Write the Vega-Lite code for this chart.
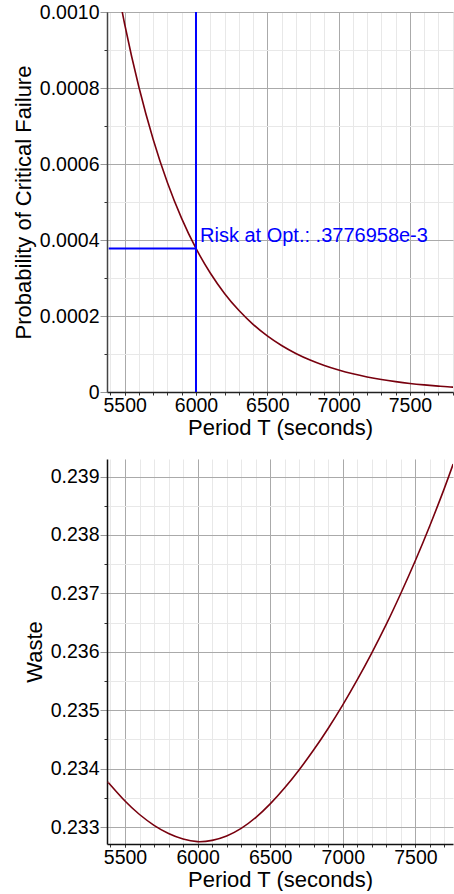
{
  "$schema": "https://vega.github.io/schema/vega-lite/v6.json",
  "background": "white",
  "padding": {"left": 12, "top": 2, "right": 0, "bottom": 0},
  "bounds": "flush",
  "spacing": 67,
  "config": {
    "view": {"stroke": null},
    "font": "Liberation Sans",
    "axis": {
      "labelFont": "Liberation Sans",
      "titleFont": "Liberation Sans",
      "labelFontSize": 19.5,
      "titleFontSize": 22,
      "titleFontWeight": "normal",
      "labelColor": "#000000",
      "titleColor": "#000000",
      "labelFlush": false,
      "labelOverlap": false
    }
  },
  "datasets": {
    "risk": [
      {"T": 5400, "P": 0.001168},
      {"T": 5500, "P": 0.0009678},
      {"T": 5600, "P": 0.0008019},
      {"T": 5700, "P": 0.0006645},
      {"T": 5800, "P": 0.0005506},
      {"T": 5900, "P": 0.0004562},
      {"T": 6000, "P": 0.0003777},
      {"T": 6100, "P": 0.0003132},
      {"T": 6200, "P": 0.0002595},
      {"T": 6300, "P": 0.000215},
      {"T": 6400, "P": 0.0001782},
      {"T": 6500, "P": 0.0001476},
      {"T": 6600, "P": 0.0001223},
      {"T": 6700, "P": 0.0001014},
      {"T": 6800, "P": 0.000084},
      {"T": 6900, "P": 0.0000696},
      {"T": 7000, "P": 0.0000577},
      {"T": 7100, "P": 0.0000478},
      {"T": 7200, "P": 0.0000396},
      {"T": 7300, "P": 0.0000328},
      {"T": 7400, "P": 0.0000272},
      {"T": 7500, "P": 0.0000225},
      {"T": 7600, "P": 0.0000187},
      {"T": 7700, "P": 0.0000155},
      {"T": 7800, "P": 0.0000128},
      {"T": 7810, "P": 0.0000126}
    ],
    "opt": [
      {"T_start": 5388, "T_opt": 6000, "risk": 0.0003776958, "label": "Risk at Opt.: .3776958e-3"}
    ],
    "waste": [
      {"T": 5385, "W": 0.233762},
      {"T": 5400, "W": 0.23372},
      {"T": 5500, "W": 0.233445},
      {"T": 5600, "W": 0.233215},
      {"T": 5700, "W": 0.23303},
      {"T": 5800, "W": 0.23289},
      {"T": 5900, "W": 0.232795},
      {"T": 6000, "W": 0.23275},
      {"T": 6100, "W": 0.232772},
      {"T": 6200, "W": 0.232847},
      {"T": 6300, "W": 0.232977},
      {"T": 6400, "W": 0.233162},
      {"T": 6500, "W": 0.233397},
      {"T": 6600, "W": 0.233672},
      {"T": 6700, "W": 0.233982},
      {"T": 6800, "W": 0.234322},
      {"T": 6900, "W": 0.234692},
      {"T": 7000, "W": 0.235092},
      {"T": 7100, "W": 0.235522},
      {"T": 7200, "W": 0.235982},
      {"T": 7300, "W": 0.236472},
      {"T": 7400, "W": 0.237002},
      {"T": 7500, "W": 0.237562},
      {"T": 7600, "W": 0.238162},
      {"T": 7700, "W": 0.238802},
      {"T": 7760, "W": 0.239212}
    ]
  },
  "vconcat": [
    {
      "width": 346,
      "height": 380,
      "resolve": {"axis": {"x": "independent", "y": "independent"}},
      "layer": [
        {
          "data": {"name": "risk"},
          "mark": {"type": "line", "color": "#78000E", "strokeWidth": 1.6, "clip": true, "interpolate": "monotone"},
          "encoding": {
            "x": {
              "field": "T", "type": "quantitative",
              "scale": {"domain": [5376, 7802], "nice": false, "zero": false},
              "axis": {"orient": "bottom", "values": [5400, 5500, 5600, 5700, 5800, 5900, 6000, 6100, 6200, 6300, 6400, 6500, 6600, 6700, 6800, 6900, 7000, 7100, 7200, 7300, 7400, 7500, 7600, 7700, 7800],
                "grid": true, "gridColor": "#e8e8e8", "gridWidth": 1, "labels": false, "title": null, "domain": false, "tickSize": 3, "tickColor": "#333333"}
            },
            "y": {
              "field": "P", "type": "quantitative",
              "scale": {"domain": [0, 0.001], "nice": false, "zero": false},
              "axis": {"orient": "left", "values": [0, 0.0001, 0.0002, 0.0003, 0.0004, 0.0005, 0.0006, 0.0007, 0.0008, 0.0009, 0.001],
                "grid": true, "gridColor": "#e8e8e8", "gridWidth": 1, "labels": false, "title": null, "domain": false, "tickSize": 3, "tickColor": "#333333"}
            }
          }
        },
        {
          "data": {"name": "opt"},
          "mark": {"type": "rule", "color": "#0000FF", "strokeWidth": 2},
          "encoding": {
            "x": {
              "field": "T_start", "type": "quantitative",
              "scale": {"domain": [5376, 7802], "nice": false, "zero": false},
              "axis": {"orient": "bottom", "values": [5500, 6000, 6500, 7000, 7500], "format": "d", "grid": true, "gridColor": "#aaaaaa", "gridWidth": 1,
                "title": "Period T (seconds)", "titlePadding": 3, "labelPadding": 1, "tickSize": 3, "tickColor": "#333333",
                "domain": true, "domainColor": "#222222", "domainWidth": 1.5}
            },
            "x2": {"field": "T_opt"},
            "y": {
              "field": "risk", "type": "quantitative",
              "scale": {"domain": [0, 0.001], "nice": false, "zero": false},
              "axis": {"orient": "left", "values": [0, 0.0002, 0.0004, 0.0006, 0.0008, 0.001], "grid": true, "gridColor": "#aaaaaa", "gridWidth": 1,
                "labelExpr": "datum.value == 0 ? '0' : format(datum.value, '.4f')",
                "title": "Probability of Critical Failure", "titlePadding": 4, "labelPadding": 1, "tickSize": 7, "tickColor": "#999999",
                "domain": true, "domainColor": "#444444", "domainWidth": 1.5}
            }
          }
        },
        {
          "data": {"name": "opt"},
          "mark": {"type": "rule", "color": "#0000FF", "strokeWidth": 2},
          "encoding": {
            "x": {"field": "T_opt", "type": "quantitative", "scale": {"domain": [5376, 7802], "nice": false, "zero": false}, "axis": null}
          }
        },
        {
          "data": {"name": "opt"},
          "mark": {"type": "text", "color": "#0000FF", "fontSize": 20, "font": "Liberation Sans", "align": "left", "baseline": "alphabetic", "dx": 4, "dy": -6},
          "encoding": {
            "x": {"field": "T_opt", "type": "quantitative", "scale": {"domain": [5376, 7802], "nice": false, "zero": false}, "axis": null},
            "y": {"field": "risk", "type": "quantitative", "scale": {"domain": [0, 0.001], "nice": false, "zero": false}, "axis": null},
            "text": {"field": "label"}
          }
        }
      ]
    },
    {
      "width": 346,
      "height": 385,
      "resolve": {"axis": {"x": "independent", "y": "independent"}},
      "layer": [
        {
          "data": {"name": "waste"},
          "mark": {"type": "line", "opacity": 0},
          "encoding": {
            "x": {
              "field": "T", "type": "quantitative",
              "scale": {"domain": [5376, 7759], "nice": false, "zero": false},
              "axis": {"orient": "bottom", "values": [5400, 5500, 5600, 5700, 5800, 5900, 6000, 6100, 6200, 6300, 6400, 6500, 6600, 6700, 6800, 6900, 7000, 7100, 7200, 7300, 7400, 7500, 7600, 7700],
                "grid": true, "gridColor": "#e8e8e8", "gridWidth": 1, "labels": false, "title": null, "domain": false, "tickSize": 3, "tickColor": "#333333"}
            },
            "y": {
              "field": "W", "type": "quantitative",
              "scale": {"domain": [0.23271, 0.2393], "nice": false, "zero": false},
              "axis": {"orient": "left", "values": [0.233, 0.2335, 0.234, 0.2345, 0.235, 0.2355, 0.236, 0.2365, 0.237, 0.2375, 0.238, 0.2385, 0.239],
                "grid": true, "gridColor": "#e8e8e8", "gridWidth": 1, "labels": false, "title": null, "domain": false, "tickSize": 3, "tickColor": "#333333"}
            }
          }
        },
        {
          "data": {"name": "waste"},
          "mark": {"type": "line", "color": "#78000E", "strokeWidth": 1.6, "clip": true, "interpolate": "natural"},
          "encoding": {
            "x": {
              "field": "T", "type": "quantitative",
              "scale": {"domain": [5376, 7759], "nice": false, "zero": false},
              "axis": {"orient": "bottom", "values": [5500, 6000, 6500, 7000, 7500], "format": "d", "grid": true, "gridColor": "#aaaaaa", "gridWidth": 1,
                "title": "Period T (seconds)", "titlePadding": 3, "labelPadding": 1, "tickSize": 3, "tickColor": "#333333",
                "domain": true, "domainColor": "#111111", "domainWidth": 1.5}
            },
            "y": {
              "field": "W", "type": "quantitative",
              "scale": {"domain": [0.23271, 0.2393], "nice": false, "zero": false},
              "axis": {"orient": "left", "values": [0.233, 0.234, 0.235, 0.236, 0.237, 0.238, 0.239], "grid": true, "gridColor": "#aaaaaa", "gridWidth": 1,
                "format": ".3f", "title": "Waste", "titlePadding": 4, "labelPadding": 1, "tickSize": 7, "tickColor": "#999999",
                "domain": true, "domainColor": "#111111", "domainWidth": 1.5}
            }
          }
        }
      ]
    }
  ]
}
